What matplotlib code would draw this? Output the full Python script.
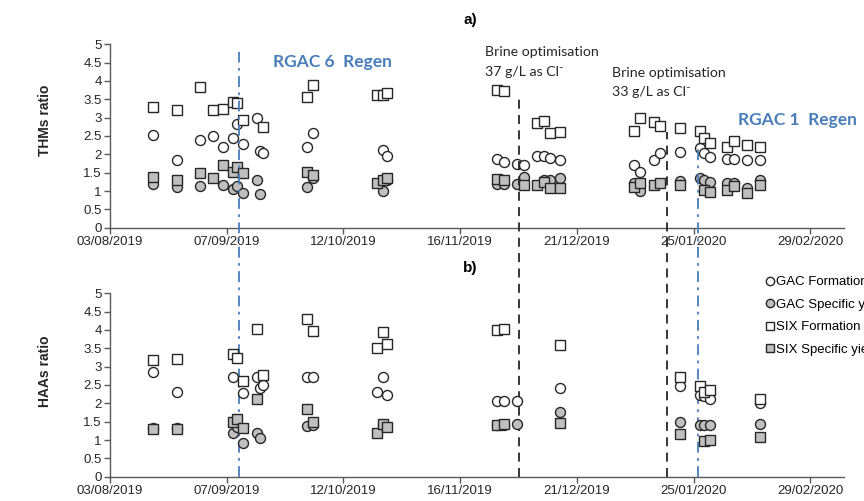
import pandas as pd
import matplotlib
matplotlib.use("Agg")
import matplotlib.pyplot as plt
import matplotlib.dates as mdates
from matplotlib.lines import Line2D

plt.rcParams['font.family'] = ['Liberation Sans', 'DejaVu Sans']

### Data (ratio values)

# a) THMs
thm_gac_f_d = ["2019-08-16", "2019-08-23", "2019-08-30", "2019-09-03", "2019-09-06", "2019-09-09",
               "2019-09-10", "2019-09-12", "2019-09-16", "2019-09-17", "2019-09-18", "2019-10-01",
               "2019-10-03", "2019-10-24", "2019-10-25", "2019-11-27", "2019-11-29", "2019-12-03",
               "2019-12-05", "2019-12-09", "2019-12-11", "2019-12-13", "2019-12-16", "2020-01-07",
               "2020-01-09", "2020-01-13", "2020-01-15", "2020-01-21", "2020-01-27", "2020-01-28",
               "2020-01-30", "2020-02-04", "2020-02-06", "2020-02-10", "2020-02-14"]
thm_gac_f = [2.53, 1.85, 2.39, 2.50, 2.21, 2.44, 2.83, 2.28, 2.99, 2.08, 2.05, 2.19,
             2.57, 2.12, 1.96, 1.86, 1.78, 1.74, 1.71, 1.95, 1.95, 1.89, 1.85, 1.71,
             1.53, 1.84, 2.03, 2.07, 2.16, 2.05, 1.94, 1.86, 1.86, 1.85, 1.85]

thm_gac_s_d = ["2019-08-16", "2019-08-23", "2019-08-30", "2019-09-06", "2019-09-09", "2019-09-10",
               "2019-09-12", "2019-09-16", "2019-09-17", "2019-10-01", "2019-10-03", "2019-10-24",
               "2019-10-25", "2019-11-27", "2019-11-29", "2019-12-03", "2019-12-05", "2019-12-11",
               "2019-12-13", "2019-12-16", "2020-01-07", "2020-01-09", "2020-01-21", "2020-01-27",
               "2020-01-28", "2020-01-30", "2020-02-04", "2020-02-06", "2020-02-10", "2020-02-14"]
thm_gac_s = [1.18, 1.12, 1.15, 1.16, 1.05, 1.15, 0.94, 1.30, 0.92, 1.12, 1.35, 1.01,
             1.30, 1.19, 1.18, 1.19, 1.39, 1.30, 1.30, 1.35, 1.23, 1.01, 1.27, 1.36,
             1.30, 1.25, 1.23, 1.23, 1.07, 1.30]

thm_six_f_d = ["2019-08-16", "2019-08-23", "2019-08-30", "2019-09-03", "2019-09-06", "2019-09-09",
               "2019-09-10", "2019-09-12", "2019-09-18", "2019-10-01", "2019-10-03", "2019-10-22",
               "2019-10-24", "2019-10-25", "2019-11-27", "2019-11-29", "2019-12-09", "2019-12-11",
               "2019-12-13", "2019-12-16", "2020-01-07", "2020-01-09", "2020-01-13", "2020-01-15",
               "2020-01-21", "2020-01-27", "2020-01-28", "2020-01-30", "2020-02-04", "2020-02-06",
               "2020-02-10", "2020-02-14"]
thm_six_f = [3.30, 3.21, 3.84, 3.21, 3.23, 3.44, 3.39, 2.94, 2.75, 3.56, 3.88, 3.62,
             3.62, 3.66, 3.75, 3.74, 2.86, 2.91, 2.59, 2.61, 2.64, 3.00, 2.89, 2.77,
             2.73, 2.64, 2.44, 2.30, 2.21, 2.37, 2.25, 2.21]

thm_six_s_d = ["2019-08-16", "2019-08-23", "2019-08-30", "2019-09-03", "2019-09-06", "2019-09-09",
               "2019-09-10", "2019-09-12", "2019-10-01", "2019-10-03", "2019-10-22", "2019-10-24",
               "2019-10-25", "2019-11-27", "2019-11-29", "2019-12-05", "2019-12-09", "2019-12-11",
               "2019-12-13", "2019-12-16", "2020-01-07", "2020-01-09", "2020-01-13", "2020-01-15",
               "2020-01-21", "2020-01-28", "2020-01-30", "2020-02-04", "2020-02-06", "2020-02-10",
               "2020-02-14"]
thm_six_s = [1.37, 1.30, 1.50, 1.35, 1.71, 1.53, 1.65, 1.48, 1.53, 1.44, 1.21, 1.30,
             1.36, 1.32, 1.30, 1.16, 1.16, 1.25, 1.07, 1.07, 1.12, 1.23, 1.16, 1.21,
             1.16, 1.03, 0.98, 1.03, 1.14, 0.94, 1.16]

# b) HAAs
haa_gac_f_d = ["2019-08-16", "2019-08-23", "2019-09-09", "2019-09-12", "2019-09-16", "2019-09-17",
               "2019-09-18", "2019-10-01", "2019-10-03", "2019-10-22", "2019-10-24", "2019-10-25",
               "2019-11-27", "2019-11-29", "2019-12-03", "2019-12-16", "2020-01-21", "2020-01-27",
               "2020-01-28", "2020-01-30", "2020-02-14"]
haa_gac_f = [2.86, 2.30, 2.73, 2.27, 2.73, 2.41, 2.50, 2.73, 2.73, 2.32, 2.73, 2.23,
             2.07, 2.07, 2.07, 2.43, 2.47, 2.23, 2.19, 2.12, 2.02]

haa_gac_s_d = ["2019-08-16", "2019-08-23", "2019-09-09", "2019-09-10", "2019-09-12", "2019-09-16",
               "2019-09-17", "2019-10-01", "2019-10-03", "2019-10-24", "2019-11-27", "2019-11-29",
               "2019-12-03", "2019-12-16", "2020-01-21", "2020-01-27", "2020-01-28", "2020-01-30",
               "2020-02-14"]
haa_gac_s = [1.34, 1.33, 1.18, 1.36, 0.93, 1.18, 1.05, 1.38, 1.41, 1.41, 1.41, 1.40,
             1.44, 1.76, 1.50, 1.41, 1.42, 1.42, 1.43]

haa_six_f_d = ["2019-08-16", "2019-08-23", "2019-09-09", "2019-09-10", "2019-09-12", "2019-09-16",
               "2019-09-18", "2019-10-01", "2019-10-03", "2019-10-22", "2019-10-24", "2019-10-25",
               "2019-11-27", "2019-11-29", "2019-12-16", "2020-01-21", "2020-01-27", "2020-01-28",
               "2020-01-30", "2020-02-14"]
haa_six_f = [3.18, 3.20, 3.34, 3.23, 2.61, 4.02, 2.77, 4.29, 3.97, 3.52, 3.95, 3.61,
             4.00, 4.03, 3.59, 2.73, 2.48, 2.32, 2.35, 2.11]

haa_six_s_d = ["2019-08-16", "2019-08-23", "2019-09-09", "2019-09-10", "2019-09-12", "2019-09-16",
               "2019-10-01", "2019-10-03", "2019-10-22", "2019-10-24", "2019-10-25", "2019-11-27",
               "2019-11-29", "2019-12-16", "2020-01-21", "2020-01-28", "2020-01-30", "2020-02-14"]
haa_six_s = [1.29, 1.29, 1.50, 1.57, 1.34, 2.11, 1.84, 1.49, 1.18, 1.43, 1.35, 1.41,
             1.44, 1.46, 1.16, 0.98, 1.00, 1.09]

series_names = ["GAC Formation potential", "GAC Specific yield",
                "SIX Formation potential", "SIX Specific yield"]

# event lines
regen_dates = ["2019-09-10 20:00", "2020-01-26 07:00"]
brine_dates = ["2019-12-03 14:00", "2020-01-16 22:00"]

x_start = pd.Timestamp("2019-08-03")
x_end = pd.Timestamp("2020-03-10")

### Plot

gray = "#bfbfbf"
edge = "#262626"
blue = "#4a7ebb"
styles = [dict(marker="o", mfc="white"), dict(marker="o", mfc=gray),
          dict(marker="s", mfc="white"), dict(marker="s", mfc=gray)]

fig = plt.figure(figsize=(8.64, 5.01), dpi=100)
ax1 = fig.add_axes([0.1273, 0.5455, 0.8492, 0.3661])
ax2 = fig.add_axes([0.1273, 0.0485, 0.8492, 0.3661])

panels = [
    (ax1, [(thm_gac_f_d, thm_gac_f), (thm_gac_s_d, thm_gac_s),
           (thm_six_f_d, thm_six_f), (thm_six_s_d, thm_six_s)], "THMs ratio", 0.587),
    (ax2, [(haa_gac_f_d, haa_gac_f), (haa_gac_s_d, haa_gac_s),
           (haa_six_f_d, haa_six_f), (haa_six_s_d, haa_six_s)], "HAAs ratio", 0.576),
]

for ax, data, ylab, ylab_y in panels:
    for (d, v), st in zip(data, styles):
        ax.plot(pd.to_datetime(d), v, linestyle="none", marker=st["marker"],
                markerfacecolor=st["mfc"], markeredgecolor=edge, markersize=7.2,
                markeredgewidth=1.0, zorder=3)
    ax.set_xlim(x_start, x_end)
    ax.set_ylim(0, 5)
    ax.set_yticks([0, 0.5, 1, 1.5, 2, 2.5, 3, 3.5, 4, 4.5, 5])
    ax.set_yticklabels(["0", "0.5", "1", "1.5", "2", "2.5", "3", "3.5", "4", "4.5", "5"])
    ax.set_xticks(pd.date_range(x_start, x_end, freq="35D"))
    ax.xaxis.set_major_formatter(mdates.DateFormatter("%d/%m/%Y"))
    for s in ["top", "right"]:
        ax.spines[s].set_visible(False)
    for s in ["left", "bottom"]:
        ax.spines[s].set_color("#595959")
        ax.spines[s].set_linewidth(1.0)
    ax.tick_params(direction="out", length=4, width=1, color="#595959",
                   labelsize=9.5, labelcolor="#262626", pad=2)
    ax.set_ylabel(ylab, fontsize=10, fontweight="bold", color="#262626")
    ax.yaxis.set_label_coords(-0.079, ylab_y)
    ax.set_facecolor("none")

# event lines drawn from the bottom panel and running up into the top one
ax_h = 183.4
ax2.axvline(pd.Timestamp(regen_dates[0]), ymin=0, ymax=(476.7 - 48) / ax_h,
            color=blue, lw=1.3, linestyle=(0, (6, 3, 1.5, 3)), clip_on=False, zorder=2)
ax2.axvline(pd.Timestamp(regen_dates[1]), ymin=0, ymax=(476.7 - 143) / ax_h,
            color=blue, lw=1.3, linestyle=(0, (6, 3, 1.5, 3)), clip_on=False, zorder=2)
ax2.axvline(pd.Timestamp(brine_dates[0]), ymin=0, ymax=(476.7 - 98) / ax_h,
            color="#262626", lw=1.3, linestyle=(0, (5, 3.5)), clip_on=False, zorder=2)
ax2.axvline(pd.Timestamp(brine_dates[1]), ymin=0, ymax=(476.7 - 132) / ax_h,
            color="#262626", lw=1.3, linestyle=(0, (5, 3.5)), clip_on=False, zorder=2)

# panel titles and annotations
fig.text(463 / 864, 1 - 20 / 501, "a)", fontsize=11, fontweight="bold", va="center")
fig.text(463 / 864, 1 - 268 / 501, "b)", fontsize=11, fontweight="bold", va="center")
fig.text(273 / 864, 1 - 62 / 501, "RGAC 6  Regen", fontsize=12.5, fontweight="bold",
         color=blue, va="center", family="Lato")
fig.text(738 / 864, 1 - 120 / 501, "RGAC 1  Regen", fontsize=12.5, fontweight="bold",
         color=blue, va="center", family="Lato")
note_font = dict(fontsize=10.2, va="center", family=["Lato", "DejaVu Sans"], color="#262626")
fig.text(485 / 864, 1 - 52 / 501, "Brine optimisation", **note_font)
fig.text(485 / 864, 1 - 72 / 501, "37 g/L as Cl\u207b", **note_font)
fig.text(612 / 864, 1 - 73 / 501, "Brine optimisation", **note_font)
fig.text(612 / 864, 1 - 92 / 501, "33 g/L as Cl\u207b", **note_font)

# legend, cut off by the figure edge like the source
handles = [Line2D([], [], linestyle="none", marker=st["marker"], markerfacecolor=st["mfc"],
                  markeredgecolor=edge, markersize=6, markeredgewidth=1.0) for st in styles]
fig.legend(handles, series_names, loc="upper left", bbox_to_anchor=(766 / 864, 1 - 276 / 501),
           frameon=False, fontsize=9.5, handlelength=0.6, handletextpad=0.15,
           labelspacing=0.78, borderaxespad=0, borderpad=0)

fig.savefig("out.png", dpi=100)
